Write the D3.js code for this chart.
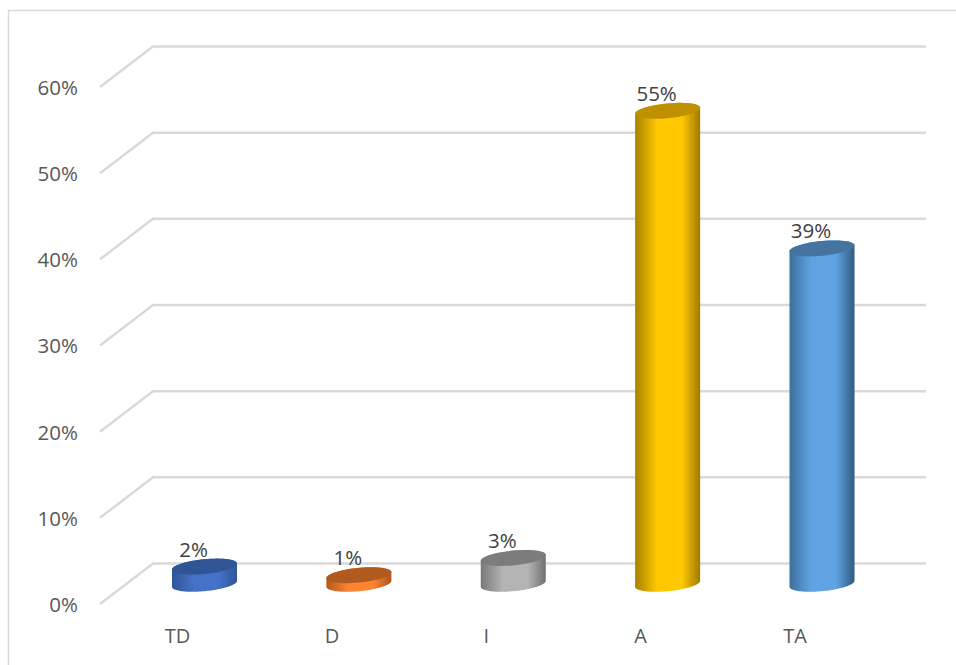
<!DOCTYPE html>
<html>
<head>
<meta charset="utf-8">
<script src="https://cdn.jsdelivr.net/npm/d3@7"></script>
<style>
    html, body { margin: 0; padding: 0; background: #fff; overflow: hidden; }
    svg { display: block; }
    text { font-family: "Open Sans", sans-serif; }
</style>
</head>
<body>
<div id="chart"></div>
<script>
const categories = ['TD', 'D', 'I', 'A', 'TA'];
const values = [2, 1, 3, 55, 39];
const valueLabels = ['2%', '1%', '3%', '55%', '39%'];
const yTicks = [0, 10, 20, 30, 40, 50, 60];
const bodyColors = [
    ['#2f5597', '#4472c8', '#2f5597'],
    ['#b05a20', '#ff8430', '#a8561e'],
    ['#787878', '#b4b4b4', '#707070'],
    ['#a88000', '#ffc800', '#a07a00'],
    ['#3e6f9e', '#5fa3e2', '#2f5a80'],
];
const topColors = ['#2f5597', '#b05a20', '#7c7c7c', '#bf9000', '#44749f'];

const width = 956;
const height = 665;
// shift between the front (axis) plane and the back wall
const depthX = 53;
const barRx = 32.5;
const barRy = 7.4;
const barTilt = 3;

const svg = d3
    .select('#chart')
    .append('svg')
    .attr('width', width)
    .attr('height', height);

// outer frame, cut off by the picture on the right and bottom
svg.append('path')
    .attr('d', d3.line()([[8.5, height], [8.5, 10.5], [width, 10.5]]))
    .attr('fill', 'none')
    .attr('stroke', '#d9d9d9')
    .attr('stroke-width', 1.5);

const yFront = d3.scaleLinear().domain([0, 60]).range([604, 87]);
const yBack = d3.scaleLinear().domain([0, 60]).range([563.5, 46.5]);
const yBar = d3.scaleLinear().domain([0, 60]).range([583.8, 67.8]);
const x = d3.scalePoint().domain(categories).range([204.5, 822]);

const frontLeft = 100;
const backLeft = frontLeft + depthX;
const backRight = 926;

// grid: side wall diagonal, then back wall line
svg.append('g')
    .selectAll('path')
    .data(yTicks)
    .join('path')
    .attr('d', (d) => d3.line()([
        [frontLeft, yFront(d)],
        [backLeft, yBack(d)],
        [backRight, yBack(d)],
    ]))
    .attr('fill', 'none')
    .attr('stroke', '#d9d9d9')
    .attr('stroke-width', 2.5);

// y axis labels
const yAxis = svg.append('g')
    .attr('transform', `translate(${frontLeft - 22},0)`)
    .call(d3.axisLeft(yFront).tickValues(yTicks).tickSize(0).tickPadding(0).tickFormat((d) => `${d}%`));
yAxis.select('.domain').remove();
yAxis.selectAll('text')
    .attr('font-size', 20.5)
    .attr('font-family', '"Open Sans", sans-serif')
    .attr('fill', '#595959')
    .attr('dy', '0.36em');

// x axis labels sit on the front plane
const xAxis = svg.append('g')
    .attr('transform', 'translate(-27.5,631)')
    .call(d3.axisBottom(x).tickSize(0).tickPadding(0));
xAxis.select('.domain').remove();
xAxis.selectAll('text')
    .attr('font-size', 20)
    .attr('font-family', '"Open Sans", sans-serif')
    .attr('fill', '#595959')
    .attr('dy', '0.6em');

// cylinder outline helpers
const ellipsePoint = (cx, cy, t) => [
    cx + barRx * Math.cos(t),
    cy + barRy * Math.sin(t) - barTilt * Math.cos(t),
];
const arc = (cx, cy, from, to) =>
    d3.range(61).map((i) => ellipsePoint(cx, cy, from + ((to - from) * i) / 60));

const defs = svg.append('defs');
bodyColors.forEach((c, i) => {
    const grad = defs.append('linearGradient').attr('id', `bar-${i}`);
    [[0, c[0]], [0.34, c[1]], [0.72, c[1]], [1, c[2]]].forEach(([o, col]) => {
        grad.append('stop').attr('offset', o).attr('stop-color', col);
    });
});

const bars = svg.append('g')
    .selectAll('g')
    .data(categories)
    .join('g');

bars.append('path')
    .attr('d', (d, i) => {
        const cx = x(d);
        const top = yBar(values[i]);
        const pts = [
            ...arc(cx, top, Math.PI, 2 * Math.PI),
            ...arc(cx, yBar(0), 0, Math.PI),
        ];
        return d3.line()(pts) + 'Z';
    })
    .attr('fill', (d, i) => `url(#bar-${i})`);

bars.append('path')
    .attr('d', (d, i) => d3.line()(arc(x(d), yBar(values[i]), 0, 2 * Math.PI)) + 'Z')
    .attr('fill', (d, i) => topColors[i]);

bars.append('text')
    .attr('x', (d) => x(d) - 11)
    .attr('y', (d, i) => yBar(values[i]) - 10)
    .attr('text-anchor', 'middle')
    .attr('font-size', 20.5)
    .attr('fill', '#404040')
    .text((d, i) => valueLabels[i]);
</script>
</body>
</html>
